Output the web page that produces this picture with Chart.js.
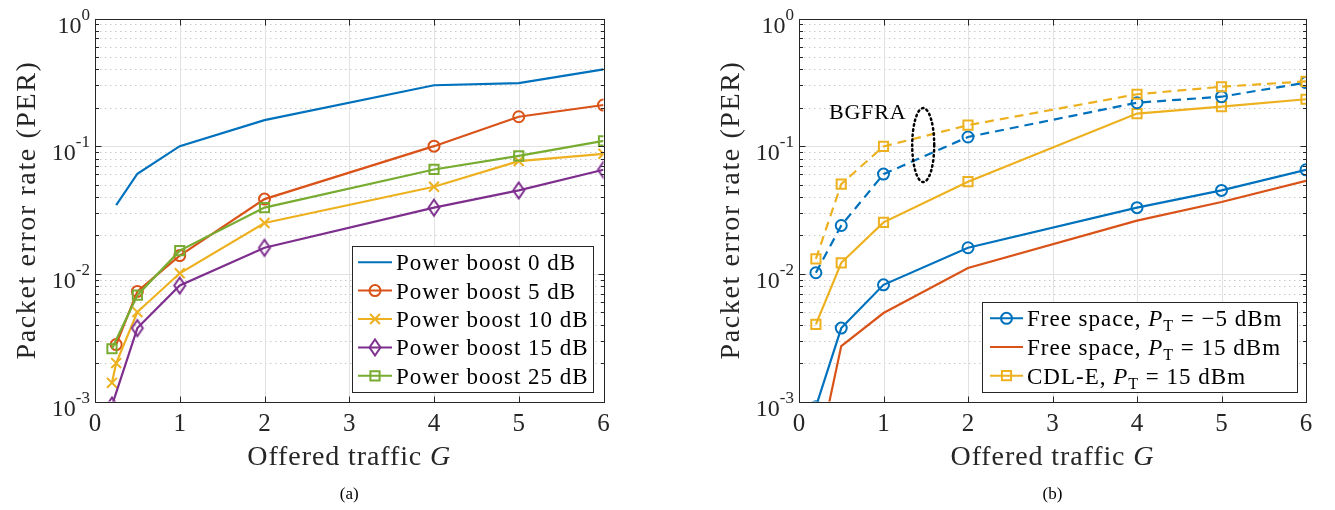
<!DOCTYPE html>
<html><head><meta charset="utf-8">
<script src="https://cdn.jsdelivr.net/npm/chart.js@4.4.1/dist/chart.umd.min.js"></script>
<style>
html,body{margin:0;padding:0;background:#fff;width:1335px;height:510px;overflow:hidden}
#wa{position:absolute;left:0;top:0;width:665px;height:510px}
#wb{position:absolute;left:665px;top:0;width:670px;height:510px}
canvas{display:block}
</style></head><body>
<div id="wa"><canvas id="ca" width="665" height="510"></canvas></div>
<div id="wb"><canvas id="cb" width="670" height="510"></canvas></div>
<script>
// ---------- tick labels ----------
const xTicks = [0, 1, 2, 3, 4, 5, 6];
const yDecadeExps = [-3, -2, -1, 0];

// ---------- (a) power boost ----------
const gA_pb0  = [0.25, 0.5, 1, 2, 4, 5, 6];
const per_pb0 = [0.0346, 0.0608, 0.100, 0.160, 0.300, 0.312, 0.400];
const gA_pb5  = [0.25, 0.5, 1, 2, 4, 5, 6];
const per_pb5 = [0.00279, 0.00728, 0.0139, 0.0385, 0.100, 0.170, 0.210];
const gA_pb10  = [0.2, 0.25, 0.5, 1, 2, 4, 5, 6];
const per_pb10 = [0.0014, 0.0020, 0.00502, 0.0101, 0.025, 0.0481, 0.0764, 0.0871];
const gA_pb15  = [0.2, 0.5, 1, 2, 4, 5, 6];
const per_pb15 = [0.00093, 0.00376, 0.0081, 0.016, 0.033, 0.045, 0.0653];
const gA_pb25  = [0.2, 0.5, 1, 2, 4, 5, 6];
const per_pb25 = [0.00259, 0.0068, 0.0152, 0.033, 0.0657, 0.084, 0.110];
const labelsA = ['Power boost 0 dB', 'Power boost 5 dB', 'Power boost 10 dB', 'Power boost 15 dB', 'Power boost 25 dB'];

// ---------- (b) free space / CDL-E ----------
const gB = [0.2, 0.5, 1, 2, 4, 5, 6];
const per_fsM5   = [0.00091, 0.00376, 0.0082, 0.016, 0.033, 0.045, 0.0653];
const per_fs15   = [0.00032, 0.00272, 0.00493, 0.0111, 0.0261, 0.0365, 0.0536];
const per_cdl15  = [0.00402, 0.0122, 0.0253, 0.0527, 0.180, 0.204, 0.233];
const per_bgM5   = [0.0102, 0.0239, 0.0604, 0.118, 0.219, 0.244, 0.315];
const per_bgCdl  = [0.0131, 0.0505, 0.0995, 0.146, 0.255, 0.292, 0.322];
const labelsB = ['Free space, P_T = −5 dBm', 'Free space, P_T = 15 dBm', 'CDL-E, P_T = 15 dBm'];
const annotB = {text: 'BGFRA', textX: 1.27, textY: 0.185, ellX: 1.47, ellY: 0.102, ellRx: 11, ellRy: 37};

const C_BLUE = '#0072BD', C_RED = '#D95319', C_YEL = '#EDB120', C_PUR = '#7E2F8E', C_GRN = '#77AC30';
const FONT = '"Liberation Serif", "Times New Roman", serif';

function mkDiamond(color) {
  const c = document.createElement('canvas'); c.width = 16; c.height = 21;
  const g = c.getContext('2d'); g.strokeStyle = color; g.lineWidth = 2;
  g.beginPath(); g.moveTo(8, 2.5); g.lineTo(13.5, 10.5); g.lineTo(8, 18.5); g.lineTo(2.5, 10.5); g.closePath(); g.stroke();
  return c;
}
const RAD = {circle: 5.5, rect: 6.5, crossRot: 7};
function ds(label, xs, ys, color, style, extra) {
  const isImg = style && typeof style !== 'string';
  return Object.assign({
    label, data: xs.map((x, i) => ({x, y: ys[i]})),
    borderColor: color, backgroundColor: color, borderWidth: 2.2,
    pointStyle: style || 'circle', pointRadius: style ? (isImg ? 8 : RAD[style]) : 0,
    pointHoverRadius: 0, pointBorderWidth: 2, pointBorderColor: color,
    pointBackgroundColor: 'rgba(0,0,0,0)', tension: 0, fill: false
  }, extra || {});
}

function setLS(ctx, s) { if ('letterSpacing' in ctx) ctx.letterSpacing = s + 'px'; }
function drawRich(ctx, segs, x, y, align, size, ls) {
  ls = ls || 0;
  let total = 0; const m = [];
  for (const s of segs) {
    const sz = (s.sub || s.sup) ? size * 0.7 : size;
    const font = (s.it ? 'italic ' : '') + sz + 'px ' + FONT;
    ctx.font = font; setLS(ctx, ls); const w = ctx.measureText(s.t).width;
    m.push({font, w, dy: s.sub ? size * 0.22 : (s.sup ? -size * 0.42 : 0)}); total += w;
  }
  let cx = align === 'center' ? x - total / 2 : (align === 'right' ? x - total : x);
  ctx.textAlign = 'left'; ctx.textBaseline = 'alphabetic';
  segs.forEach((s, i) => { ctx.font = m[i].font; setLS(ctx, ls); ctx.fillText(s.t, cx, y + m[i].dy); cx += m[i].w; });
  setLS(ctx, 0);
}
function labelSegs(lbl) {
  const k = lbl.indexOf('P_T');
  if (k < 0) return [{t: lbl}];
  return [{t: lbl.slice(0, k)}, {t: 'P', it: true}, {t: 'T', sub: true}, {t: lbl.slice(k + 3)}];
}
function line(ctx, x0, y0, x1, y1) { ctx.beginPath(); ctx.moveTo(x0, y0); ctx.lineTo(x1, y1); ctx.stroke(); }

function makeDecor(cfg) {
  return {
    id: 'decor',
    beforeDatasetsDraw(chart) {
      const {ctx, chartArea: a, scales: {x, y}} = chart;
      ctx.save(); ctx.lineWidth = 1;
      ctx.strokeStyle = '#cacaca'; ctx.setLineDash([1.5, 3.5]);
      for (const e of yDecadeExps) { if (e >= 0) continue;
        for (let mm = 2; mm <= 9; mm++) { const py = Math.round(y.getPixelForValue(mm * Math.pow(10, e))) + 0.5; line(ctx, a.left, py, a.right, py); } }
      ctx.setLineDash([]); ctx.strokeStyle = '#e2e2e2';
      for (const e of yDecadeExps) { const py = Math.round(y.getPixelForValue(Math.pow(10, e))) + 0.5; line(ctx, a.left, py, a.right, py); }
      for (const t of xTicks) { const px = Math.round(x.getPixelForValue(t)) + 0.5; line(ctx, px, a.top, px, a.bottom); }
      ctx.restore();
    },
    afterDatasetsDraw(chart) {
      const {ctx, chartArea: a, scales: {x, y}} = chart;
      ctx.save();
      // annotation
      if (cfg.annot) {
        const an = cfg.annot;
        ctx.strokeStyle = '#000'; ctx.lineWidth = 2.5; ctx.setLineDash([1.5, 3.5]); ctx.lineCap = 'round';
        ctx.beginPath(); ctx.ellipse(x.getPixelForValue(an.ellX), y.getPixelForValue(an.ellY), an.ellRx, an.ellRy, 0, 0, Math.PI * 2); ctx.stroke();
        ctx.setLineDash([]); ctx.fillStyle = '#000';
        drawRich(ctx, [{t: an.text}], x.getPixelForValue(an.textX), y.getPixelForValue(an.textY) + 7, 'right', 22, 0.8);
      }
      // box + ticks
      ctx.strokeStyle = '#262626'; ctx.lineWidth = 1; ctx.lineCap = 'butt';
      const L = Math.round(a.left) + 0.5, R = Math.round(a.right) + 0.5, T = Math.round(a.top) + 0.5, B = Math.round(a.bottom) + 0.5;
      ctx.strokeRect(L, T, R - L, B - T);
      for (const t of xTicks) { const px = Math.round(x.getPixelForValue(t)) + 0.5; line(ctx, px, B, px, B - 6); line(ctx, px, T, px, T + 6); }
      for (const e of yDecadeExps) {
        const py = Math.round(y.getPixelForValue(Math.pow(10, e))) + 0.5; line(ctx, L, py, L + 6, py); line(ctx, R, py, R - 6, py);
        if (e < 0) for (let mm = 2; mm <= 9; mm++) { const q = Math.round(y.getPixelForValue(mm * Math.pow(10, e))) + 0.5; line(ctx, L, q, L + 3.5, q); line(ctx, R, q, R - 3.5, q); }
      }
      // tick labels
      ctx.fillStyle = '#262626';
      ctx.font = '25px ' + FONT; ctx.textAlign = 'center'; ctx.textBaseline = 'alphabetic';
      for (const t of xTicks) ctx.fillText(String(t), x.getPixelForValue(t), 431);
      for (const e of yDecadeExps) {
        const py = y.getPixelForValue(Math.pow(10, e));
        ctx.font = '17px ' + FONT; const ex = (e < 0 ? '-' : '') + Math.abs(e); const we = ctx.measureText(ex).width;
        ctx.textAlign = 'right'; ctx.fillText(ex, a.left - 5, py + 1);
        ctx.font = '24px ' + FONT; ctx.fillText('10', a.left - 5 - we, py + 14);
      }
      // titles
      ctx.fillStyle = '#262626';
      drawRich(ctx, [{t: 'Offered traffic '}, {t: 'G', it: true}], (a.left + a.right) / 2, 465, 'center', 28, 0.9);
      ctx.save(); ctx.translate(cfg.yTitleX, (a.top + a.bottom) / 2); ctx.rotate(-Math.PI / 2);
      drawRich(ctx, [{t: 'Packet error rate (PER)'}], 0, 10, 'center', 28, 1.6); ctx.restore();
      // caption
      ctx.fillStyle = '#000'; drawRich(ctx, [{t: cfg.caption}], (a.left + a.right) / 2, 499, 'center', 17);
      // legend
      const lg = cfg.legend;
      ctx.fillStyle = '#fff'; ctx.fillRect(lg.box[0], lg.box[1], lg.box[2] - lg.box[0], lg.box[3] - lg.box[1]);
      ctx.strokeStyle = '#262626'; ctx.lineWidth = 1;
      ctx.strokeRect(lg.box[0] + 0.5, lg.box[1] + 0.5, lg.box[2] - lg.box[0], lg.box[3] - lg.box[1]);
      const rh = (lg.box[3] - lg.box[1] - 2 * lg.padY) / lg.items.length;
      lg.items.forEach((di, i) => {
        const d = chart.data.datasets[di];
        const yc = lg.box[1] + lg.padY + rh * (i + 0.5);
        ctx.strokeStyle = d.borderColor; ctx.lineWidth = 2; ctx.setLineDash([]);
        line(ctx, lg.lineX[0], yc, lg.lineX[1], yc);
        if (d.pointRadius > 0) {
          const mx = (lg.lineX[0] + lg.lineX[1]) / 2;
          if (typeof d.pointStyle !== 'string') ctx.drawImage(d.pointStyle, mx - d.pointStyle.width / 2, yc - d.pointStyle.height / 2);
          else { ctx.fillStyle = 'rgba(0,0,0,0)'; Chart.helpers.drawPoint(ctx, {pointStyle: d.pointStyle, rotation: 0, radius: d.pointRadius, borderWidth: 2}, mx, yc); }
        }
        ctx.fillStyle = '#000';
        drawRich(ctx, labelSegs(d.label), lg.textX, yc + 8, 'left', 23, 1);
      });
      ctx.restore();
    }
  };
}

function baseOptions(padL, padR) {
  return {
    responsive: false, animation: false, devicePixelRatio: 1,
    layout: {padding: {left: padL, top: 18.5, right: padR, bottom: 108.5}},
    plugins: {legend: {display: false}, tooltip: {enabled: false}},
    scales: {
      x: {type: 'linear', min: 0, max: 6, display: false},
      y: {type: 'logarithmic', min: 0.001, max: 1, display: false}
    }
  };
}

const dsA = [
  ds(labelsA[0], gA_pb0, per_pb0, C_BLUE, null, {order: 5}),
  ds(labelsA[1], gA_pb5, per_pb5, C_RED, 'circle', {order: 4}),
  ds(labelsA[2], gA_pb10, per_pb10, C_YEL, 'crossRot', {order: 3}),
  ds(labelsA[3], gA_pb15, per_pb15, C_PUR, mkDiamond(C_PUR), {order: 2}),
  ds(labelsA[4], gA_pb25, per_pb25, C_GRN, 'rect', {order: 1})
];
new Chart(document.getElementById('ca'), {
  type: 'line', data: {datasets: dsA}, options: baseOptions(95, 61.5),
  plugins: [makeDecor({caption: '(a)', yTitleX: 25,
    legend: {box: [352, 246, 593, 392], padY: 2, lineX: [358, 392], textX: 396, items: [0, 1, 2, 3, 4]}})]
});

const dsB = [
  ds(labelsB[0], gB, per_fsM5, C_BLUE, 'circle', {order: 5}),
  ds(labelsB[1], gB, per_fs15, C_RED, null, {order: 4}),
  ds(labelsB[2], gB, per_cdl15, C_YEL, 'rect', {order: 3}),
  ds('BGFRA, ' + labelsB[0], gB, per_bgM5, C_BLUE, 'circle', {order: 2, borderDash: [9, 6]}),
  ds('BGFRA, ' + labelsB[2], gB, per_bgCdl, C_YEL, 'rect', {order: 1, borderDash: [9, 6]})
];
new Chart(document.getElementById('cb'), {
  type: 'line', data: {datasets: dsB}, options: baseOptions(134, 29),
  plugins: [makeDecor({caption: '(b)', yTitleX: 64, annot: annotB,
    legend: {box: [317, 302, 632, 392], padY: 2, lineX: [325, 358], textX: 362, items: [0, 1, 2]}})]
});
</script>
</body></html>
